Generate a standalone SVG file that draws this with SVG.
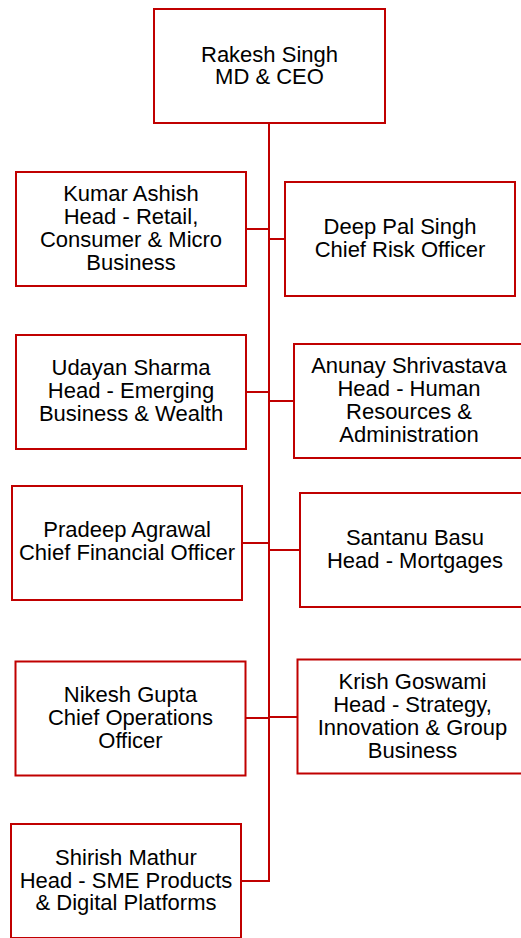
<svg xmlns="http://www.w3.org/2000/svg" width="521" height="938" viewBox="0 0 521 938">
<style>
.box{fill:#fff;stroke:#C00000;stroke-width:2}
.con{fill:none;stroke:#C00000;stroke-width:2}
text{font-family:"Liberation Sans",Arial,sans-serif;font-size:22px;fill:#000;text-anchor:middle}
</style>
<rect x="0" y="0" width="521" height="938" fill="#fff"/>
<g id="connectors">
<path class="con" d="M269,123 V881 H241"/>
<path class="con" d="M246,229 H269"/>
<path class="con" d="M269,239 H285"/>
<path class="con" d="M246,392 H269"/>
<path class="con" d="M269,401 H294"/>
<path class="con" d="M242,543 H269"/>
<path class="con" d="M269,550 H300"/>
<path class="con" d="M245.5,718 H269"/>
<path class="con" d="M269,717 H297.5"/>
</g>
<g id="rakesh">
<rect class="box" x="154" y="9" width="231" height="114"/>
<text x="269.5" y="62">Rakesh Singh</text>
<text x="269.5" y="84">MD &amp; CEO</text>
</g>
<g id="kumar">
<rect class="box" x="16" y="172" width="230" height="114"/>
<text x="131" y="200.7">Kumar Ashish</text>
<text x="131" y="223.7">Head - Retail,</text>
<text x="131" y="246.7">Consumer &amp; Micro</text>
<text x="131" y="270">Business</text>
</g>
<g id="deep">
<rect class="box" x="285" y="182" width="230" height="114"/>
<text x="400" y="234">Deep Pal Singh</text>
<text x="400" y="257">Chief Risk Officer</text>
</g>
<g id="udayan">
<rect class="box" x="16" y="335" width="230" height="114"/>
<text x="131" y="375">Udayan Sharma</text>
<text x="131" y="398">Head - Emerging</text>
<text x="131" y="421">Business &amp; Wealth</text>
</g>
<g id="anunay">
<rect class="box" x="294" y="344" width="230" height="114"/>
<text x="409" y="372.5">Anunay Shrivastava</text>
<text x="409" y="395.5">Head - Human</text>
<text x="409" y="418.5">Resources &amp;</text>
<text x="409" y="441.5">Administration</text>
</g>
<g id="pradeep">
<rect class="box" x="12" y="486" width="230" height="114"/>
<text x="127" y="536.5">Pradeep Agrawal</text>
<text x="127" y="560">Chief Financial Officer</text>
</g>
<g id="santanu">
<rect class="box" x="300" y="493" width="230" height="114"/>
<text x="415" y="545">Santanu Basu</text>
<text x="415" y="568">Head - Mortgages</text>
</g>
<g id="nikesh">
<rect class="box" x="15.5" y="661.5" width="230" height="114"/>
<text x="130.5" y="701.5">Nikesh Gupta</text>
<text x="130.5" y="724.5">Chief Operations</text>
<text x="130.5" y="747.5">Officer</text>
</g>
<g id="krish">
<rect class="box" x="297.5" y="659.5" width="230" height="114"/>
<text x="412.5" y="689">Krish Goswami</text>
<text x="412.5" y="712">Head - Strategy,</text>
<text x="412.5" y="735">Innovation &amp; Group</text>
<text x="412.5" y="757.5">Business</text>
</g>
<g id="shirish">
<rect class="box" x="11" y="824" width="230" height="114"/>
<text x="126" y="864.5">Shirish Mathur</text>
<text x="126" y="888">Head - SME Products</text>
<text x="126" y="910">&amp; Digital Platforms</text>
</g>
</svg>
